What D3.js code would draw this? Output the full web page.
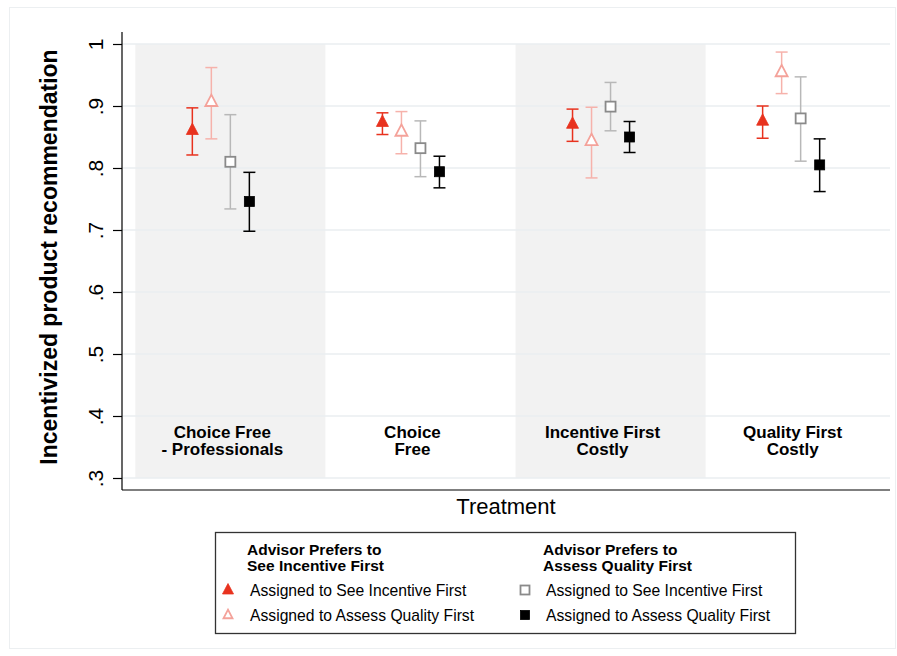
<!DOCTYPE html>
<html>
<head>
<meta charset="utf-8">
<script src="https://cdn.jsdelivr.net/npm/d3@7"></script>
<style>
  html, body { margin: 0; padding: 0; background: #fff; }
  svg { display: block; font-family: "Liberation Sans", Arial, Helvetica, sans-serif; }
</style>
</head>
<body>
<svg id="chart" width="897" height="656"></svg>
<script>
// Treatments (x positions 1..4)
const treatments = [["Choice Free", "- Professionals"], ["Choice", "Free"], ["Incentive First", "Costly"], ["Quality First", "Costly"]];
const yTicks = [0.3, 0.4, 0.5, 0.6, 0.7, 0.8, 0.9, 1];
const yTickLabels = [".3", ".4", ".5", ".6", ".7", ".8", ".9", "1"];

// Means and 95% CI bounds per treatment, one array set per series
const seeSeeMean  = [0.861, 0.874, 0.871, 0.876];
const seeSeeLo    = [0.821, 0.854, 0.843, 0.848];
const seeSeeHi    = [0.897, 0.889, 0.895, 0.900];

const seeQualMean = [0.907, 0.859, 0.844, 0.955];
const seeQualLo   = [0.847, 0.823, 0.784, 0.920];
const seeQualHi   = [0.962, 0.891, 0.898, 0.987];

const qualSeeMean = [0.810, 0.832, 0.899, 0.880];
const qualSeeLo   = [0.734, 0.786, 0.860, 0.811];
const qualSeeHi   = [0.886, 0.876, 0.938, 0.947];

const qualQualMean = [0.746, 0.794, 0.850, 0.805];
const qualQualLo   = [0.698, 0.768, 0.825, 0.762];
const qualQualHi   = [0.793, 0.819, 0.875, 0.847];

const series = [
  { mean: seeSeeMean,   lo: seeSeeLo,   hi: seeSeeHi,   offset: -0.2, shape: "tri", fill: "#e8321e", stroke: "#e8321e", bar: "#e8321e" },
  { mean: seeQualMean,  lo: seeQualLo,  hi: seeQualHi,  offset: -0.1, shape: "tri", fill: "#ffffff", stroke: "#f4a29a", bar: "#f6b2ab" },
  { mean: qualSeeMean,  lo: qualSeeLo,  hi: qualSeeHi,  offset:  0.0, shape: "sq",  fill: "#ffffff", stroke: "#8a8a8a", bar: "#b8b8b8" },
  { mean: qualQualMean, lo: qualQualLo, hi: qualQualHi, offset:  0.1, shape: "sq",  fill: "#000000", stroke: "#000000", bar: "#000000" }
];

const svg = d3.select("#chart");

// faint outer frame
svg.append("rect").attr("x", 9.5).attr("y", 7.5).attr("width", 886).attr("height", 641)
  .attr("fill", "none").attr("stroke", "#eceff1").attr("stroke-width", 1);

const x = d3.scaleLinear().domain([0.43, 4.47]).range([122, 890]);
const y = d3.scaleLinear().domain([0.3, 1]).range([478, 44]);
const axisBottomY = 490;
const axisTopY = 32;

// alternating shaded treatment bands
svg.append("g").selectAll("rect").data(treatments).join("rect")
  .attr("x", (d, i) => x(i + 0.5))
  .attr("width", x(1.5) - x(0.5))
  .attr("y", y(1))
  .attr("height", y(0.3) - y(1))
  .attr("fill", (d, i) => i % 2 === 0 ? "#f2f2f2" : "none");

// horizontal grid lines
svg.append("g").selectAll("line").data(yTicks).join("line")
  .attr("x1", x.range()[0]).attr("x2", x.range()[1])
  .attr("y1", d => y(d)).attr("y2", d => y(d))
  .attr("stroke", "#eaeef0").attr("stroke-width", 1.6);

// y axis
const yAxis = d3.axisLeft(y).tickValues(yTicks).tickFormat((d, i) => yTickLabels[i]).tickSize(9).tickSizeOuter(0);
const gy = svg.append("g").attr("transform", `translate(${x.range()[0]},0)`).call(yAxis);
gy.select(".domain").remove();
gy.append("line").attr("x1", 0).attr("x2", 0).attr("y1", axisTopY).attr("y2", axisBottomY)
  .attr("stroke", "#000").attr("stroke-width", 1.2);
gy.selectAll(".tick line").attr("stroke", "#000").attr("stroke-width", 1.2);
gy.selectAll(".tick text")
  .attr("x", 0).attr("y", 0).attr("dy", 0)
  .attr("text-anchor", "middle")
  .attr("transform", "translate(-19,0) rotate(-90)")
  .attr("font-size", 21).attr("fill", "#000")
  .attr("font-family", "Liberation Sans, Arial, sans-serif");

// x axis line
svg.append("line").attr("x1", x.range()[0]).attr("x2", x.range()[1])
  .attr("y1", axisBottomY).attr("y2", axisBottomY).attr("stroke", "#000").attr("stroke-width", 1.2);

// axis titles
svg.append("text")
  .attr("transform", `translate(57,257) rotate(-90)`)
  .attr("text-anchor", "middle").attr("font-weight", "bold").attr("font-size", 23)
  .text("Incentivized product recommendation");
svg.append("text").attr("x", (x.range()[0] + x.range()[1]) / 2).attr("y", 514)
  .attr("text-anchor", "middle").attr("font-size", 22).text("Treatment");

// treatment labels inside the plot (sit slightly left of the band centre)
const lab = svg.append("g").selectAll("text").data(treatments).join("text")
  .attr("text-anchor", "middle").attr("font-weight", "bold").attr("font-size", 17);
lab.append("tspan").attr("x", (d, i) => x(i + 1) - 8).attr("y", 437.5).text(d => d[0]);
lab.append("tspan").attr("x", (d, i) => x(i + 1) - 8).attr("y", 455).text(d => d[1]);

// marker drawing helper
function drawMarker(g, shape, cx, cy, fill, stroke, s) {
  if (shape === "tri") {
    const h = s * 0.95;
    g.append("path")
      .attr("d", `M${cx},${cy - h * 0.62} L${cx + s / 2},${cy + h * 0.38} L${cx - s / 2},${cy + h * 0.38} Z`)
      .attr("fill", fill).attr("stroke", stroke).attr("stroke-width", fill === "#ffffff" ? 1.8 : 0.8)
      .attr("stroke-linejoin", "miter");
  } else {
    g.append("rect").attr("x", cx - s / 2).attr("y", cy - s / 2).attr("width", s).attr("height", s)
      .attr("fill", fill).attr("stroke", stroke).attr("stroke-width", fill === "#ffffff" ? 1.8 : 0.8);
  }
}

// error bars and markers
const capW = 6;
series.forEach(s => {
  const g = svg.append("g");
  s.mean.forEach((m, i) => {
    const cx = x(i + 1 + s.offset);
    g.append("line").attr("x1", cx).attr("x2", cx).attr("y1", y(s.lo[i])).attr("y2", y(s.hi[i]))
      .attr("stroke", s.bar).attr("stroke-width", 1.5);
    [s.lo[i], s.hi[i]].forEach(v => {
      g.append("line").attr("x1", cx - capW).attr("x2", cx + capW).attr("y1", y(v)).attr("y2", y(v))
        .attr("stroke", s.bar).attr("stroke-width", 1.5);
    });
    drawMarker(g, s.shape, cx, y(m), s.fill, s.stroke, s.shape === "tri" ? 12 : 10);
  });
});

// legend
const lg = svg.append("g");
lg.append("rect").attr("x", 215.5).attr("y", 532.5).attr("width", 580).attr("height", 101)
  .attr("fill", "#fff").attr("stroke", "#333").attr("stroke-width", 1.3);
const heads = [["Advisor Prefers to", "See Incentive First"], ["Advisor Prefers to", "Assess Quality First"]];
const items = ["Assigned to See Incentive First", "Assigned to Assess Quality First"];
[247, 543].forEach((hx, c) => {
  const t = lg.append("text").attr("font-weight", "bold").attr("font-size", 15.5);
  t.append("tspan").attr("x", hx).attr("y", 555).text(heads[c][0]);
  t.append("tspan").attr("x", hx).attr("y", 571).text(heads[c][1]);
  [0, 1].forEach(r => {
    const s = series[c * 2 + r];
    const my = 590 + r * 25;
    const mx = c === 0 ? 228 : 525;
    drawMarker(lg, s.shape, mx, my, s.fill, s.stroke, s.shape === "tri" ? (r === 0 ? 11 : 9) : 9);
    lg.append("text").attr("x", hx + 3).attr("y", my + 6).attr("font-size", 15.7).text(items[r]);
  });
});
</script>
</body>
</html>
